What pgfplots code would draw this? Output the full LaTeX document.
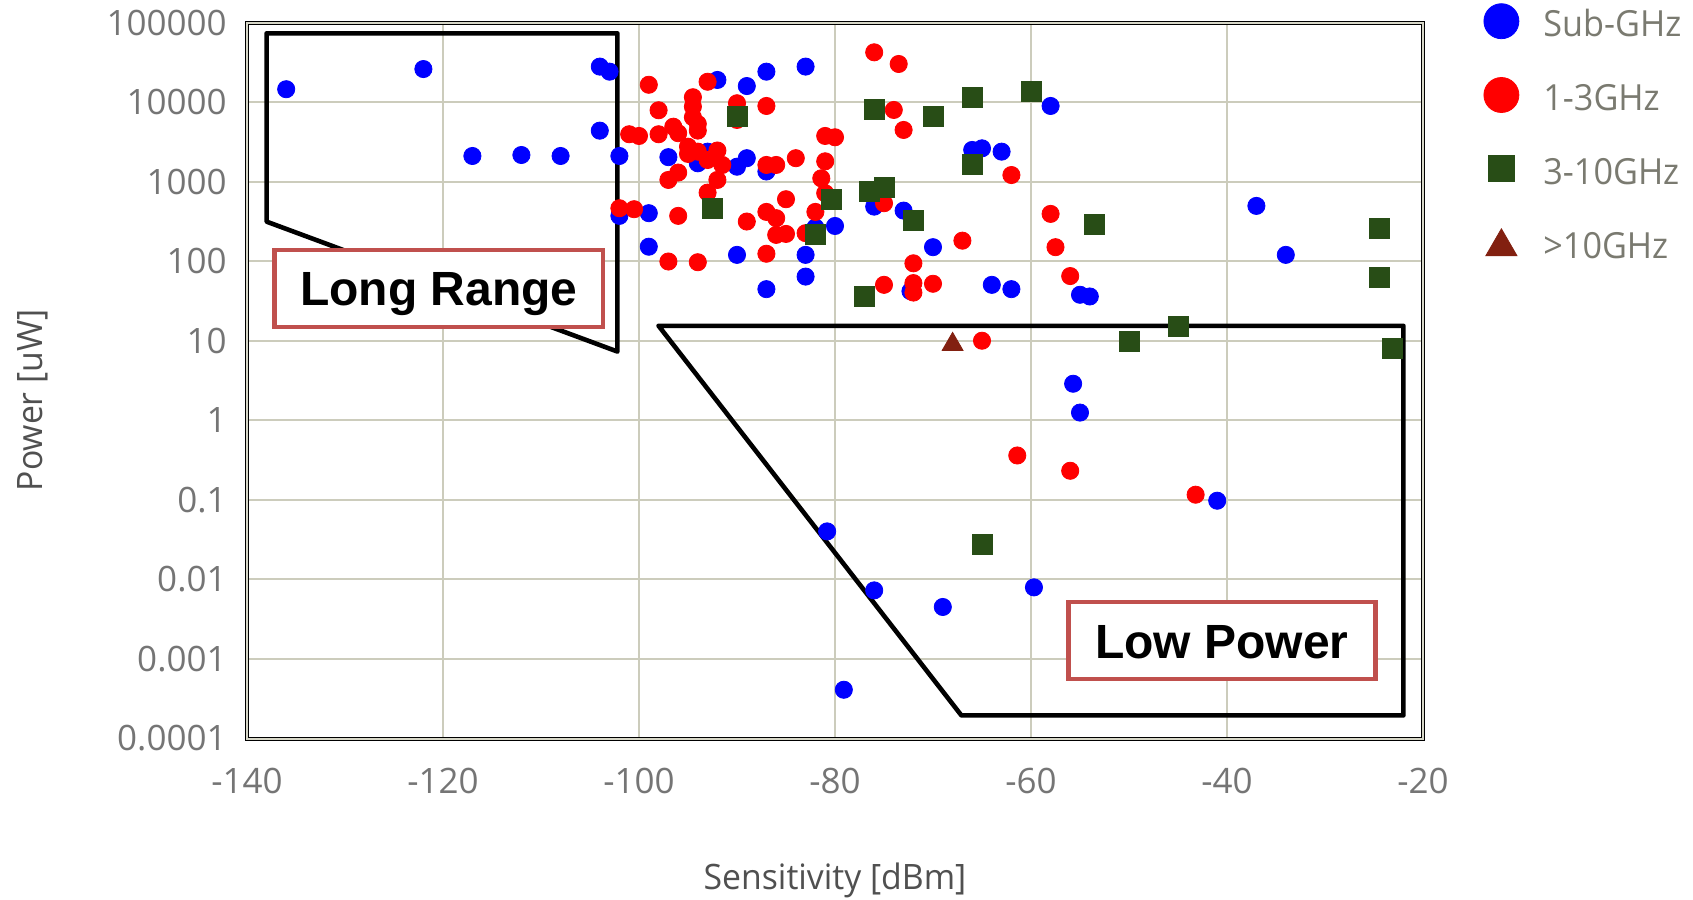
\documentclass[border=0pt]{standalone}
\usepackage{pgfplots}
\pgfplotsset{compat=1.18}
\usepackage{fontspec}
\setmainfont{Open Sans}
\newfontfamily\labelfont[FakeStretch=0.965]{Open Sans}
\newfontfamily\legfont[FakeStretch=0.95]{Open Sans}
\newfontfamily\boxfont{Liberation Sans}
\definecolor{gridc}{RGB}{204,204,188}
\definecolor{framec}{RGB}{215,215,200}
\definecolor{tickc}{RGB}{117,117,117}
\definecolor{labc}{RGB}{80,80,80}
\definecolor{legc}{RGB}{122,122,112}
\definecolor{sqgreen}{RGB}{40,77,22}
\definecolor{tribrown}{RGB}{130,32,16}
\definecolor{boxred}{RGB}{192,80,77}
\begin{document}
\begin{tikzpicture}
\useasboundingbox (-123.5pt,-80.65pt) rectangle (723pt,369.25pt);
\begin{axis}[
  scale only axis, width=588pt, height=358pt,
  xmin=-140, xmax=-20, ymode=log, ymin=1e-4, ymax=1e5,
  xtick={-140,-120,-100,-80,-60,-40,-20},
  xticklabels={-140,-120,-100,-80,-60,-40,-20},
  ytick={1e-4,1e-3,1e-2,1e-1,1,10,100,1000,10000,100000},
  yticklabels={0.0001,0.001,0.01,0.1,1,10,100,1000,10000,100000},
  grid=major, major grid style={draw=gridc, line width=0.9pt},
  minor tick num=0,
  tick style={draw=none},
  axis line style={draw=black, line width=0.5pt, double=framec, double distance=1pt},
  ticklabel style={font=\fontsize{17.5}{20}\selectfont, text=tickc, inner sep=0pt},
  xticklabel style={anchor=north, yshift=-14.7pt},
  yticklabel style={anchor=east, xshift=-10pt},
  xlabel={Sensitivity [dBm]}, ylabel={Power [uW]},
  every axis x label/.style={at={(axis description cs:0.5,-0.2113)}, anchor=base,
    font=\labelfont\fontsize{17.5}{20}\selectfont, text=labc, inner sep=0pt},
  every axis y label/.style={at={(axis description cs:-0.1737,0.4724)}, anchor=base, rotate=90,
    font=\labelfont\fontsize{17.5}{20}\selectfont, text=labc, inner sep=0pt},
  legend style={at={(axis description cs:1,1)}, anchor=north west, xshift=30pt, yshift=10.05pt,
    draw=none, fill=none, inner sep=0pt, row sep=14.9pt,
    font=\legfont\fontsize{18}{21}\selectfont, text=legc,
    nodes={inner sep=0pt, text height=13pt, text depth=5pt},
    /tikz/every odd column/.append style={column sep=12pt}},
  legend cell align=left,
]
% region outlines
\addplot[black, line width=2.3pt, line join=round, line cap=round, forget plot]
  coordinates {(-138,73100) (-102.2,73100) (-102.2,7.31) (-138,314) (-138,73100)};
\addplot[black, line width=2.3pt, line join=round, line cap=round, forget plot]
  coordinates {(-98.0,15.4) (-22.0,15.4) (-22.0,0.000195) (-67.1,0.000195) (-98.0,15.4)};

% Sub-GHz
\addplot[only marks, mark=*, mark size=4.3pt, color=blue, mark options={draw=none, fill=blue},
  legend image code/.code={\path[draw=none,fill=none] (-9pt,-5pt) rectangle (9pt,13pt); \fill[blue] (0pt,3.8pt) circle (8.75pt);}]
coordinates {
(-136,14500) (-122,26000) (-104,27900) (-103,24100) (-104,4370)
(-117,2100) (-112,2160) (-108,2100) (-102,2100) (-97,2030)
(-102,371) (-99,401) (-99,152) (-92,18960) (-89,15900)
(-87,24100) (-83,27900) (-94,1700) (-93,2380) (-90,1540)
(-89,1970) (-87,1340) (-82,265) (-80,277) (-83,120)
(-83,64) (-90,120) (-87,44.5) (-76,485) (-73,432)
(-70,150) (-66,2500) (-65,2620) (-63,2380) (-58,8930)
(-64,50.4) (-62,44.5) (-72.3,42) (-37,495) (-34,120)
(-55,37.8) (-54,36) (-55.7,2.88) (-55,1.25) (-41,0.0975)
(-80.8,0.0401) (-76,0.00728) (-59.7,0.00794) (-69,0.0045) (-79.1,0.00041)
};
\addlegendentry{Sub-GHz}

% 1-3GHz
\addplot[only marks, mark=*, mark size=4.3pt, color=red, mark options={draw=none, fill=red},
  legend image code/.code={\path[draw=none,fill=none] (-9pt,-5pt) rectangle (9pt,13pt); \fill[red] (0pt,3.8pt) circle (8.75pt);}]
coordinates {
(-99,16500) (-98,7890) (-101,3940) (-100,3750) (-98,3940)
(-96.5,4900) (-96,4060) (-97,1050) (-96,1300) (-102,463)
(-100.5,450) (-96,371) (-97,99) (-94,97) (-93,18000)
(-94.5,11500) (-94.5,8750) (-94.5,6440) (-94,5310) (-94,4380)
(-95,2750) (-95,2230) (-94,2380) (-93,1870) (-92,2460)
(-91.5,1620) (-92,1050) (-93,728) (-90,9660) (-90,5960)
(-87,8930) (-87,1620) (-86,1620) (-84,1970) (-81,3750)
(-80,3610) (-81,1800) (-81.4,1100) (-81,715) (-82,416)
(-85,601) (-87,416) (-86,347) (-89,315) (-86,214)
(-85,220) (-83,225) (-87,124) (-76,42200) (-73.5,30100)
(-74,7960) (-73,4460) (-75,535) (-62,1210) (-58,393)
(-57.5,150) (-67,181) (-72,94) (-75,50.4) (-72,53)
(-72,40.3) (-70,52) (-65,10) (-56,65) (-61.4,0.361)
(-56,0.232) (-43.2,0.116)
};
\addlegendentry{1-3GHz}

% 3-10GHz
\addplot[only marks, mark=square*, mark size=5pt, color=sqgreen, mark options={draw=none, fill=sqgreen},
  legend image code/.code={\path[draw=none,fill=none] (-9pt,-5pt) rectangle (9pt,13pt); \fill[sqgreen] (-6.5pt,-2.7pt) rectangle (6.5pt,10.3pt);}]
coordinates {
(-90,6560) (-92.5,463) (-80.4,606) (-82,214) (-76.5,750)
(-75,842) (-72,330) (-77,36) (-76,8110) (-70,6560)
(-66,11500) (-60,13500) (-66,1655) (-53.5,292) (-50,9.8)
(-45,15.1) (-23.1,8.07) (-24.5,255) (-24.5,63) (-65,0.0273)
};
\addlegendentry{3-10GHz}

% >10GHz
\addplot[only marks, mark=triangle*, mark size=6pt, color=tribrown, mark options={draw=none, fill=tribrown},
  legend image code/.code={\path[draw=none,fill=none] (-9pt,-5pt) rectangle (9pt,13pt); \fill[tribrown] (-7.75pt,-2.7pt) -- (7.75pt,-2.7pt) -- (0pt,10.7pt) -- cycle;}]
coordinates {(-68,9.0)};
\addlegendentry{>10GHz}

% labels
\node[draw=boxred, line width=2.3pt, fill=white, minimum width=164.4pt, minimum height=38.5pt, inner sep=0pt]
  at (axis cs:-120.43,45.5) {};
\node[anchor=base, inner sep=0pt, font=\boxfont\bfseries\fontsize{24}{28}\selectfont]
  at (axis cs:-120.43,27.5) {Long Range};
\node[draw=boxred, line width=2.3pt, fill=white, minimum width=153.3pt, minimum height=38.5pt, inner sep=0pt]
  at (axis cs:-40.51,0.001706) {};
\node[anchor=base, inner sep=0pt, font=\boxfont\bfseries\fontsize{24}{28}\selectfont]
  at (axis cs:-40.51,0.001) {Low Power};
\end{axis}
\end{tikzpicture}
\end{document}
